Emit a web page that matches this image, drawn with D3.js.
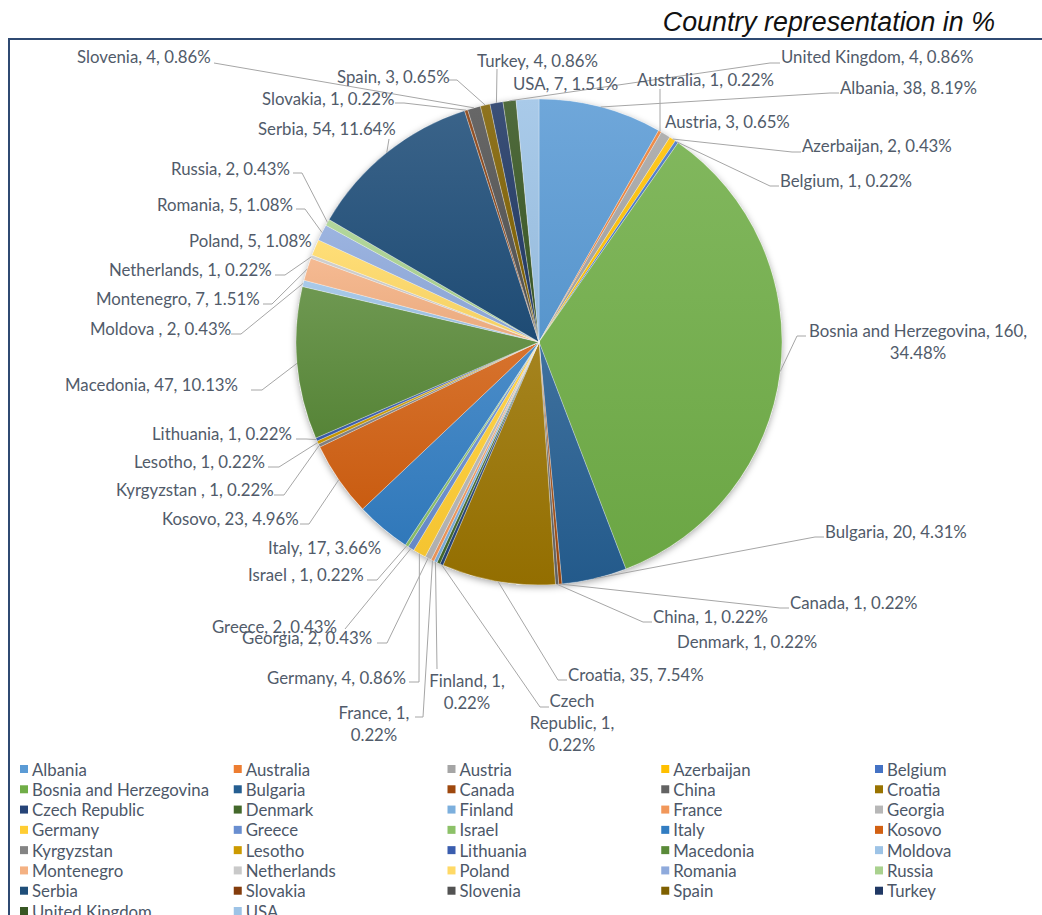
<!DOCTYPE html>
<html>
<head>
<meta charset="utf-8">
<script src="https://cdn.jsdelivr.net/npm/d3@7"></script>
<style>
  body { margin: 0; background: #fff; }
  svg { display: block; }
  .lbl { font-family: Lato, "Open Sans", sans-serif; font-size: 16.8px; fill: #515b6a; white-space: pre; }
  .leg { font-family: Lato, "Open Sans", sans-serif; font-size: 16.8px; fill: #4c5768; }
  .title { font-family: "Liberation Sans", Arial, sans-serif; font-style: italic; font-size: 26.8px; fill: #111; }
</style>
</head>
<body>
<div id="Chart"></div>
<script>
// categories in pie order (clockwise from 12 o'clock)
const countries = [
  "Albania", "Australia", "Austria", "Azerbaijan", "Belgium", "Bosnia and Herzegovina",
  "Bulgaria", "Canada", "China", "Croatia", "Czech Republic", "Denmark",
  "Finland", "France", "Georgia", "Germany", "Greece", "Israel ",
  "Italy", "Kosovo", "Kyrgyzstan ", "Lesotho", "Lithuania", "Macedonia",
  "Moldova ", "Montenegro", "Netherlands", "Poland", "Romania", "Russia",
  "Serbia", "Slovakia", "Slovenia", "Spain", "Turkey", "United Kingdom", "USA"
];
const counts = [
  38, 1, 3, 2, 1, 160,
  20, 1, 1, 35, 1, 1,
  1, 1, 2, 4, 2, 1,
  17, 23, 1, 1, 1, 47,
  2, 7, 1, 5, 5, 2,
  54, 1, 4, 3, 4, 4, 7
];
const colours = [
  "#5b9bd5", "#ed7d31", "#a5a5a5", "#ffc000", "#4472c4", "#70ad47",
  "#255e91", "#9e480e", "#636363", "#997300", "#264478", "#43682b",
  "#7cafdd", "#f1975a", "#b7b7b7", "#ffcd33", "#698ed0", "#8cc168",
  "#327dc2", "#d26012", "#848484", "#cc9a00", "#3a5dae", "#5a8a39",
  "#9dc3e6", "#f4b183", "#c9c9c9", "#ffd966", "#8faadc", "#a9d18e",
  "#1f4e79", "#843c0c", "#525252", "#7f6000", "#203864", "#385723", "#9dc3e6"
];
const titleText = "Country representation in %";

// label placement (text position + leader line points)
const labelAt = {
  "Albania":        {x: 840, y: 87,  lead: [[830, 93], [839, 93]]},
  "Australia":      {x: 637, y: 79,  lead: [[660, 89]]},
  "Austria":        {x: 665, y: 121, lead: null},
  "Azerbaijan":     {x: 802, y: 145, lead: [[792, 152], [801, 152]]},
  "Belgium":        {x: 780, y: 180, lead: [[770, 186], [779, 186]]},
  "Bosnia and Herzegovina": {x: 918, y: 330, mid: true, brk: 1, lead: [[797, 336], [806, 336]]},
  "Bulgaria":       {x: 825, y: 531, lead: [[815, 537], [824, 537]]},
  "Canada":         {x: 790, y: 602, lead: [[780, 608], [789, 608]]},
  "China":          {x: 653, y: 616, lead: [[643, 622], [652, 622]]},
  "Croatia":        {x: 568, y: 674, lead: [[558, 680], [567, 680]]},
  "Czech Republic": {x: 572, y: 700, mid: true, brk: 2, lead: [[540, 707], [549, 707]]},
  "Denmark":        {x: 677, y: 641, lead: null},
  "Finland":        {x: 467, y: 680, mid: true, brk: 1, lead: [[437, 669]]},
  "France":         {x: 374, y: 712, mid: true, brk: 1, lead: [[423, 717], [415, 717]]},
  "Georgia":        {x: 242, y: 637, lead: [[387, 643], [377, 643]]},
  "Germany":        {x: 267, y: 677, lead: [[419, 682], [409, 682]]},
  "Greece":         {x: 212, y: 626, lead: [[345, 629]]},
  "Israel":         {x: 248, y: 574, lead: [[377, 580], [367, 580]]},
  "Italy":          {x: 268, y: 547, lead: null},
  "Kosovo":         {x: 162, y: 518, lead: [[309, 524], [300, 524]]},
  "Kyrgyzstan":     {x: 116, y: 489, lead: [[284, 495], [274, 495]]},
  "Lesotho":        {x: 134, y: 461, lead: [[279, 467], [268, 467]]},
  "Lithuania":      {x: 152, y: 433, lead: [[306, 439], [296, 439]]},
  "Macedonia":      {x: 65,  y: 384, lead: [[262, 390], [251, 390]]},
  "Moldova":        {x: 90,  y: 328, lead: [[241, 334], [231, 334]]},
  "Montenegro":     {x: 96,  y: 298, lead: [[272, 304], [263, 304]]},
  "Netherlands":    {x: 109, y: 269, lead: [[285, 275], [275, 275]]},
  "Poland":         {x: 189, y: 240, lead: null},
  "Romania":        {x: 157, y: 204, lead: [[305, 209], [296, 209]]},
  "Russia":         {x: 171, y: 168, lead: [[302, 173], [293, 173]]},
  "Serbia":         {x: 258, y: 128, lead: [[389, 139]]},
  "Slovakia":       {x: 262, y: 98,  lead: [[404, 103], [395, 103]]},
  "Slovenia":       {x: 77,  y: 56,  lead: [[214, 63]]},
  "Spain":          {x: 337, y: 76,  lead: [[457, 80], [449, 80]]},
  "Turkey":         {x: 477, y: 60,  lead: [[497, 69]]},
  "United Kingdom": {x: 781, y: 56,  lead: [[770, 63], [780, 63]]},
  "USA":            {x: 513, y: 83,  lead: null}
};

const W = 1042, H = 915;
const cx = 539, cy = 342, R = 243;
const total = d3.sum(counts);
const rows = countries.map((name, i) => ({name, value: counts[i], colour: colours[i], i}));

const svg = d3.select("#Chart").append("svg")
  .attr("width", W).attr("height", H)
  .attr("viewBox", `0 0 ${W} ${H}`);

const defs = svg.append("defs");
const shadow = defs.append("filter").attr("id", "shadow")
  .attr("x", "-10%").attr("y", "-10%").attr("width", "120%").attr("height", "120%");
shadow.append("feDropShadow")
  .attr("dx", 0).attr("dy", 2).attr("stdDeviation", 3.5)
  .attr("flood-color", "#000").attr("flood-opacity", 0.35);

const grads = defs.selectAll("linearGradient")
  .data(rows)
  .join("linearGradient")
    .attr("id", d => "g" + d.i)
    .attr("x1", 0).attr("y1", 0).attr("x2", 0).attr("y2", 1);
grads.append("stop").attr("offset", "0%")
  .attr("stop-color", d => d3.interpolateRgb(d.colour, "#fff")(0.12));
grads.append("stop").attr("offset", "100%")
  .attr("stop-color", d => d3.color(d.colour).darker(0.12));

// frame
svg.append("line").attr("x1", 8).attr("x2", W).attr("y1", 39).attr("y2", 39)
  .attr("stroke", "#2f4a72").attr("stroke-width", 2);
svg.append("line").attr("x1", 9).attr("x2", 9).attr("y1", 39).attr("y2", H)
  .attr("stroke", "#2f4a72").attr("stroke-width", 2);

svg.append("text").attr("class", "title")
  .attr("x", 995).attr("y", 31).attr("text-anchor", "end")
  .text(titleText);

const pie = d3.pie().sort(null).value(d => d.value);
const arcs = pie(rows);
const arc = d3.arc().innerRadius(0).outerRadius(R);
const edge = d3.arc().innerRadius(R).outerRadius(R);

const pieG = svg.append("g").attr("transform", `translate(${cx},${cy})`);
pieG.append("circle").attr("r", R).attr("fill", "#fff").attr("filter", "url(#shadow)");
pieG.selectAll("path.slice")
  .data(arcs)
  .join("path")
    .attr("class", "slice")
    .attr("d", arc)
    .attr("fill", d => `url(#g${d.data.i})`)
    .attr("stroke", "#fff").attr("stroke-width", 0.4).attr("stroke-opacity", 0.7);

// leader lines
const leadG = svg.append("g");
arcs.forEach(d => {
  const spot = labelAt[d.data.name.trim()];
  if (!spot || !spot.lead) return;
  const [px, py] = edge.centroid(d);
  const pts = [[cx + px, cy + py], ...spot.lead];
  leadG.append("path")
    .attr("d", d3.line()(pts))
    .attr("fill", "none")
    .attr("stroke", "#a6a6a6")
    .attr("stroke-width", 1);
});

// data labels
const lblG = svg.append("g");
arcs.forEach(d => {
  const name = d.data.name;
  const spot = labelAt[name.trim()];
  const pct = (d.data.value / total * 100).toFixed(2) + "%";
  let lines;
  if (spot.brk === 2) {
    const parts = name.split(" ");
    lines = [parts[0], parts.slice(1).join(" ") + ", " + d.data.value + ",", pct];
  } else if (spot.brk === 1) {
    lines = [name + ", " + d.data.value + ",", pct];
  } else {
    lines = [name + ", " + d.data.value + ", " + pct];
  }
  const t = lblG.append("text").attr("class", "lbl")
    .attr("text-anchor", spot.mid ? "middle" : "start");
  lines.forEach((ln, k) => {
    t.append("tspan")
      .attr("x", spot.x)
      .attr("y", spot.y + k * 22)
      .attr("dominant-baseline", "central")
      .text(ln);
  });
});

// legend, five columns
const legCols = 5;
const colX = d3.scaleLinear().domain([0, legCols - 1]).range([20, 875]);
const rowY = d3.scaleLinear().domain([0, 7]).range([769, 911]);
const legG = svg.append("g");
const item = legG.selectAll("g.item")
  .data(rows)
  .join("g")
    .attr("class", "item")
    .attr("transform", d => `translate(${colX(d.i % legCols)},${rowY(Math.floor(d.i / legCols))})`);
item.append("rect")
  .attr("x", 0).attr("y", -4).attr("width", 8).attr("height", 8)
  .attr("fill", d => d.colour);
item.append("text").attr("class", "leg")
  .attr("x", 12).attr("y", 0)
  .attr("dominant-baseline", "central")
  .text(d => d.name.trim());
</script>
</body>
</html>
